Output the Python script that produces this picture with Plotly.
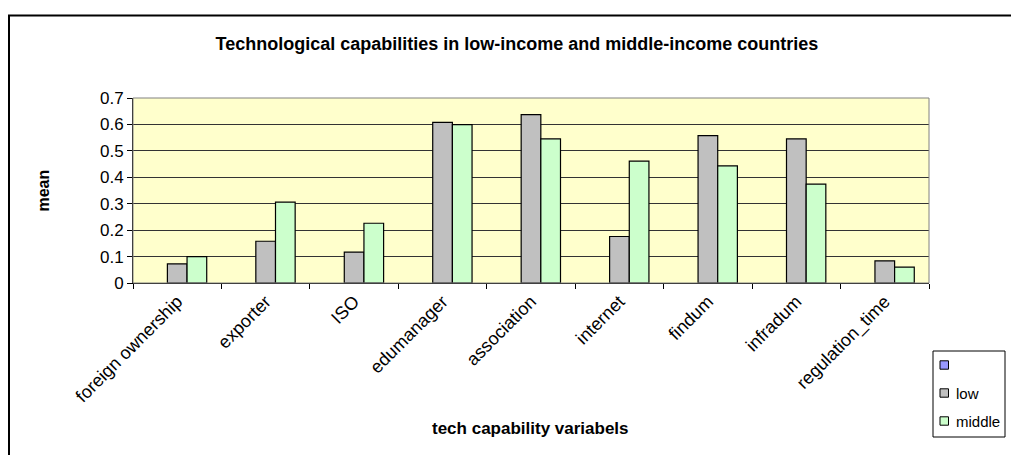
import plotly.graph_objects as go

# Technology-capability indicators and their mean values by income group
categories = ["foreign ownership", "exporter", "ISO", "edumanager", "association",
              "internet", "findum", "infradum", "regulation_time"]
blank = [None, None, None, None, None, None, None, None, None]
low = [0.072, 0.158, 0.117, 0.608, 0.637, 0.176, 0.558, 0.545, 0.084]
middle = [0.100, 0.306, 0.226, 0.599, 0.545, 0.461, 0.443, 0.374, 0.060]
y_ticks = [0, 0.1, 0.2, 0.3, 0.4, 0.5, 0.6, 0.7]

series = [(" ", blank, "#9999FF"), ("low", low, "#C0C0C0"), ("middle", middle, "#CCFFCC")]

FONT = "Arial, Liberation Sans, sans-serif"

fig = go.Figure()
for name, vals, color in series:
    fig.add_trace(go.Bar(
        x=categories, y=vals, name=name,
        marker=dict(color=color, line=dict(color="black", width=1.2)),
    ))

W, H = 1011, 455
L, R, T, B = 133, 82, 98, 172
pw, ph = W - L - R, H - T - B


def px_x(x):
    return (x - L) / pw


def px_y(y):
    return (H - B - y) / ph


shapes = [
    # plot-area frame
    dict(type="rect", xref="paper", yref="paper", x0=0, x1=1, y0=0, y1=1,
         line=dict(color="#808080", width=1), layer="above"),
    # outer chart border
    dict(type="rect", xref="paper", yref="paper",
         x0=px_x(9), x1=px_x(1020), y0=px_y(470), y1=px_y(15.5),
         line=dict(color="black", width=2)),
    # legend box
    dict(type="rect", xref="paper", yref="paper",
         x0=px_x(933), x1=px_x(1005), y0=px_y(437), y1=px_y(351),
         line=dict(color="black", width=1), fillcolor="white"),
]
annotations = [
    dict(text="<b>mean</b>", xref="paper", yref="paper", x=px_x(43), y=0.5,
         textangle=-90, showarrow=False, xanchor="center", yanchor="middle",
         font=dict(family=FONT, size=16, color="black")),
    dict(text="<b>tech capability variabels</b>", xref="paper", yref="paper",
         x=px_x(530), y=px_y(428), showarrow=False, xanchor="center",
         yanchor="middle", font=dict(family=FONT, size=17, color="black")),
]

# legend entries: swatch + label
for i, (name, _, color) in enumerate(series):
    cy = 365 + i * 28
    shapes.append(dict(type="rect", xref="paper", yref="paper",
                       x0=px_x(940), x1=px_x(948.5), y0=px_y(cy + 4.2), y1=px_y(cy - 4.2),
                       line=dict(color="black", width=1), fillcolor=color))
    if name.strip():
        annotations.append(dict(text=name, xref="paper", yref="paper",
                                x=px_x(954), y=px_y(cy), xanchor="left", yanchor="middle",
                                showarrow=False,
                                font=dict(family=FONT, size=15, color="black")))

fig.update_layout(
    width=W, height=H,
    margin=dict(l=L, r=R, t=T, b=B, autoexpand=False),
    paper_bgcolor="white",
    plot_bgcolor="#FFFFCC",
    barmode="group", bargap=0.333, bargroupgap=0,
    showlegend=False,
    font=dict(family=FONT, size=17, color="black"),
    title=dict(text="<b>Technological capabilities in low-income and middle-income countries</b>",
               font=dict(family=FONT, size=18, color="black"),
               x=517 / W, xref="container", xanchor="center",
               y=1 - 44 / H, yref="container", yanchor="middle"),
    xaxis=dict(type="category", showgrid=False, showline=True, linecolor="black",
               linewidth=1, ticks="outside", ticklen=5, tickcolor="black",
               tickson="boundaries", tickangle=-45,
               tickfont=dict(family=FONT, size=18, color="black")),
    yaxis=dict(range=[0, 0.7], tickvals=y_ticks, showgrid=True, gridcolor="#333333",
               gridwidth=1, showline=True, linecolor="black", linewidth=1,
               ticks="outside", ticklen=5, tickcolor="black", zeroline=False,
               tickfont=dict(family=FONT, size=17, color="black")),
    shapes=shapes,
    annotations=annotations,
)

fig.write_html("out.html")
